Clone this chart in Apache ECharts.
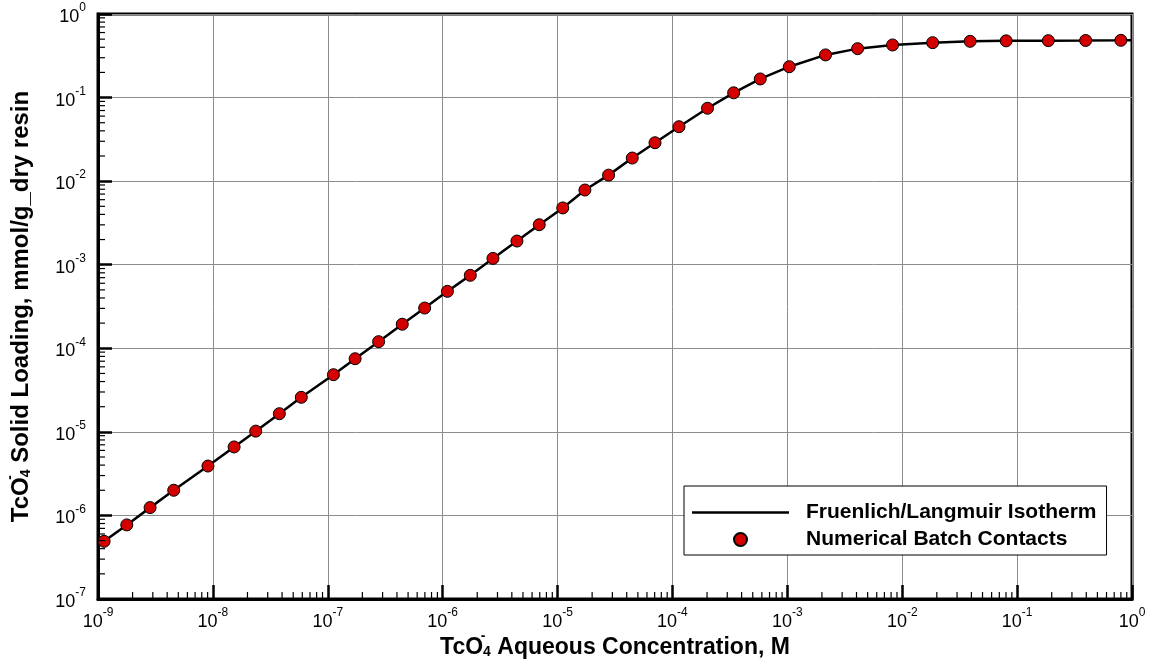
<!DOCTYPE html>
<html><head><meta charset="utf-8">
<script src="https://cdn.jsdelivr.net/npm/echarts@6/dist/echarts.min.js"></script>
<style>html,body{margin:0;padding:0;background:#fff}#c{width:1152px;height:665px}</style>
</head><body><div id="c"></div>
<script>
const FONT = '"Liberation Sans", Arial, Helvetica, sans-serif';

// Numerical batch contacts (points)
const batchConc = [1.13e-9, 1.78e-9, 2.84e-9, 4.56e-9, 9.06e-9, 1.53e-8, 2.36e-8, 3.79e-8, 5.88e-8,
  1.12e-7, 1.73e-7, 2.77e-7, 4.45e-7, 6.97e-7, 1.10e-6, 1.74e-6, 2.74e-6, 4.43e-6, 6.93e-6,
  1.11e-5, 1.73e-5, 2.78e-5, 4.47e-5, 7.05e-5, 1.14e-4, 2.02e-4, 3.41e-4, 5.81e-4, 1.04e-3,
  2.15e-3, 4.09e-3, 8.24e-3, 1.84e-2, 3.9e-2, 8.03e-2, 0.187, 0.395, 0.80];
const batchLoading = [4.9e-7, 7.7e-7, 1.24e-6, 2.0e-6, 3.9e-6, 6.6e-6, 1.02e-5, 1.65e-5, 2.59e-5,
  4.83e-5, 7.5e-5, 1.2e-4, 1.94e-4, 3.03e-4, 4.8e-4, 7.46e-4, 1.19e-3, 1.92e-3, 3.01e-3,
  4.78e-3, 7.83e-3, 1.18e-2, 1.89e-2, 2.88e-2, 4.48e-2, 7.45e-2, 0.114, 0.167, 0.234,
  0.324, 0.385, 0.426, 0.454, 0.471, 0.477, 0.480, 0.482, 0.484];

// Fruenlich/Langmuir isotherm curve
const curveConc = [1e-9, 1.13e-9, 1.78e-9, 2.84e-9, 4.56e-9, 9.06e-9, 1.53e-8, 2.36e-8, 3.79e-8, 5.88e-8,
  1.12e-7, 1.73e-7, 2.77e-7, 4.45e-7, 6.97e-7, 1.10e-6, 1.74e-6, 2.74e-6, 4.43e-6, 6.93e-6,
  1.11e-5, 1.73e-5, 2.78e-5, 4.47e-5, 7.05e-5, 1.14e-4, 2.02e-4, 3.41e-4, 5.81e-4, 1.04e-3,
  2.15e-3, 4.09e-3, 8.24e-3, 1.84e-2, 3.9e-2, 8.03e-2, 0.187, 0.395, 0.80, 1.0];
const curveLoading = [4.34e-7, 4.9e-7, 7.7e-7, 1.24e-6, 2.0e-6, 3.9e-6, 6.6e-6, 1.02e-5, 1.65e-5, 2.59e-5,
  4.83e-5, 7.5e-5, 1.2e-4, 1.94e-4, 3.03e-4, 4.8e-4, 7.46e-4, 1.19e-3, 1.92e-3, 3.01e-3,
  4.78e-3, 7.83e-3, 1.18e-2, 1.89e-2, 2.88e-2, 4.48e-2, 7.45e-2, 0.114, 0.167, 0.234,
  0.324, 0.385, 0.426, 0.454, 0.471, 0.477, 0.480, 0.482, 0.484, 0.485];

const xDecades = [-9, -8, -7, -6, -5, -4, -3, -2, -1, 0];
const yDecades = [-7, -6, -5, -4, -3, -2, -1, 0];
const minorMultipliers = [2, 3, 4, 5, 6, 7, 8, 9];

const xMin = Math.pow(10, xDecades[0]), xMax = Math.pow(10, xDecades[xDecades.length - 1]);
const yMin = Math.pow(10, yDecades[0]), yMax = Math.pow(10, yDecades[yDecades.length - 1]);

const xMinor = [], yMinor = [];
xDecades.slice(0, -1).forEach(d => minorMultipliers.forEach(m => xMinor.push([m * Math.pow(10, d), yMin])));
yDecades.slice(0, -1).forEach(d => minorMultipliers.forEach(m => yMinor.push([xMin, m * Math.pow(10, d)])));

const labelRich = {
  b: { fontSize: 18, fontFamily: FONT, color: '#000', verticalAlign: 'bottom' },
  s: { fontSize: 12, fontFamily: FONT, color: '#000', verticalAlign: 'bottom', padding: [0, 0, 12, 0] }
};
const expFmt = v => '{b|10}{s|' + Math.round(Math.log10(v)) + '}';

function titleRich(size) {
  return {
    t: { fontSize: size, fontWeight: 'bold', fontFamily: FONT, color: '#000', lineHeight: 30, verticalAlign: 'bottom' },
    sp: { fontSize: 14, fontWeight: 'bold', fontFamily: FONT, color: '#000', lineHeight: 16, verticalAlign: 'top', width: 0.01 },
    sb: { fontSize: 14, fontWeight: 'bold', fontFamily: FONT, color: '#000', lineHeight: 16, verticalAlign: 'bottom' }
  };
}

const chart = echarts.init(document.getElementById('c'), null, { renderer: 'canvas' });
chart.setOption({
  animation: false,
  backgroundColor: '#fff',
  grid: {
    left: 98, right: 20, top: 14, bottom: 66, containLabel: false, outerBoundsMode: 'none',
    show: true, borderColor: '#000', borderWidth: 3, backgroundColor: 'transparent'
  },
  xAxis: {
    type: 'log', logBase: 10, min: xMin, max: xMax,
    name: '{t|TcO}{sp|-}{sb|4}{t| Aqueous Concentration, M}',
    nameLocation: 'middle', nameGap: 30, nameMoveOverlap: false,
    nameTextStyle: { rich: titleRich(23) },
    axisLine: { lineStyle: { color: '#000', width: 3 } },
    axisTick: { inside: true, length: 14, lineStyle: { color: '#000', width: 2.5 } },
    minorTick: { show: false },
    splitLine: { show: true, lineStyle: { color: '#8c8c8c', width: 1 } },
    axisLabel: { formatter: expFmt, rich: labelRich, margin: 8 }
  },
  yAxis: {
    type: 'log', logBase: 10, min: yMin, max: yMax,
    name: '{t|TcO}{sp|-}{sb|4}{t| Solid Loading, mmol/g_dry resin}',
    nameLocation: 'middle', nameGap: 65, nameRotate: 90,
    nameTextStyle: { rich: titleRich(24) },
    axisLine: { lineStyle: { color: '#000', width: 3 } },
    axisTick: { inside: true, length: 14, lineStyle: { color: '#000', width: 2.5 } },
    minorTick: { show: false },
    splitLine: { show: true, lineStyle: { color: '#8c8c8c', width: 1 } },
    axisLabel: { formatter: expFmt, rich: labelRich, margin: 12 }
  },
  legend: {
    orient: 'vertical', left: 684, top: 486,
    backgroundColor: '#fff', borderColor: '#000', borderWidth: 1,
    padding: [16, 10, 5, 8], itemGap: 6, itemWidth: 97, itemHeight: 13,
    textStyle: { fontSize: 21, fontWeight: 'bold', fontFamily: FONT, color: '#000', padding: [0, 0, 0, 12] },
    data: [
      { name: 'Fruenlich/Langmuir Isotherm', icon: 'path://M0,0H97V2.5H0Z' },
      { name: 'Numerical Batch Contacts', icon: 'circle' }
    ]
  },
  series: [
    {
      name: 'Fruenlich/Langmuir Isotherm', type: 'line', symbol: 'none', smooth: false,
      lineStyle: { color: '#000', width: 2.5 }, itemStyle: { color: '#000' },
      data: curveConc.map((x, i) => [x, curveLoading[i]]), z: 3
    },
    {
      name: 'Numerical Batch Contacts', type: 'scatter', symbol: 'circle', symbolSize: 12,
      itemStyle: { color: '#d40000', borderColor: '#000', borderWidth: 1, opacity: 1 },
      data: batchConc.map((x, i) => [x, batchLoading[i]]), z: 4
    },
    {
      name: 'xMinorTicks', type: 'custom', silent: true, clip: false, z: 5,
      data: xMinor,
      renderItem: (params, api) => {
        const p = api.coord([api.value(0), api.value(1)]);
        return { type: 'line', shape: { x1: p[0], y1: p[1], x2: p[0], y2: p[1] - 7 }, style: { stroke: '#000', lineWidth: 1.2 } };
      }
    },
    {
      name: 'yMinorTicks', type: 'custom', silent: true, clip: false, z: 5,
      data: yMinor,
      renderItem: (params, api) => {
        const p = api.coord([api.value(0), api.value(1)]);
        return { type: 'line', shape: { x1: p[0], y1: p[1], x2: p[0] + 7, y2: p[1] }, style: { stroke: '#000', lineWidth: 1.2 } };
      }
    }
  ]
});
</script>
</body></html>
